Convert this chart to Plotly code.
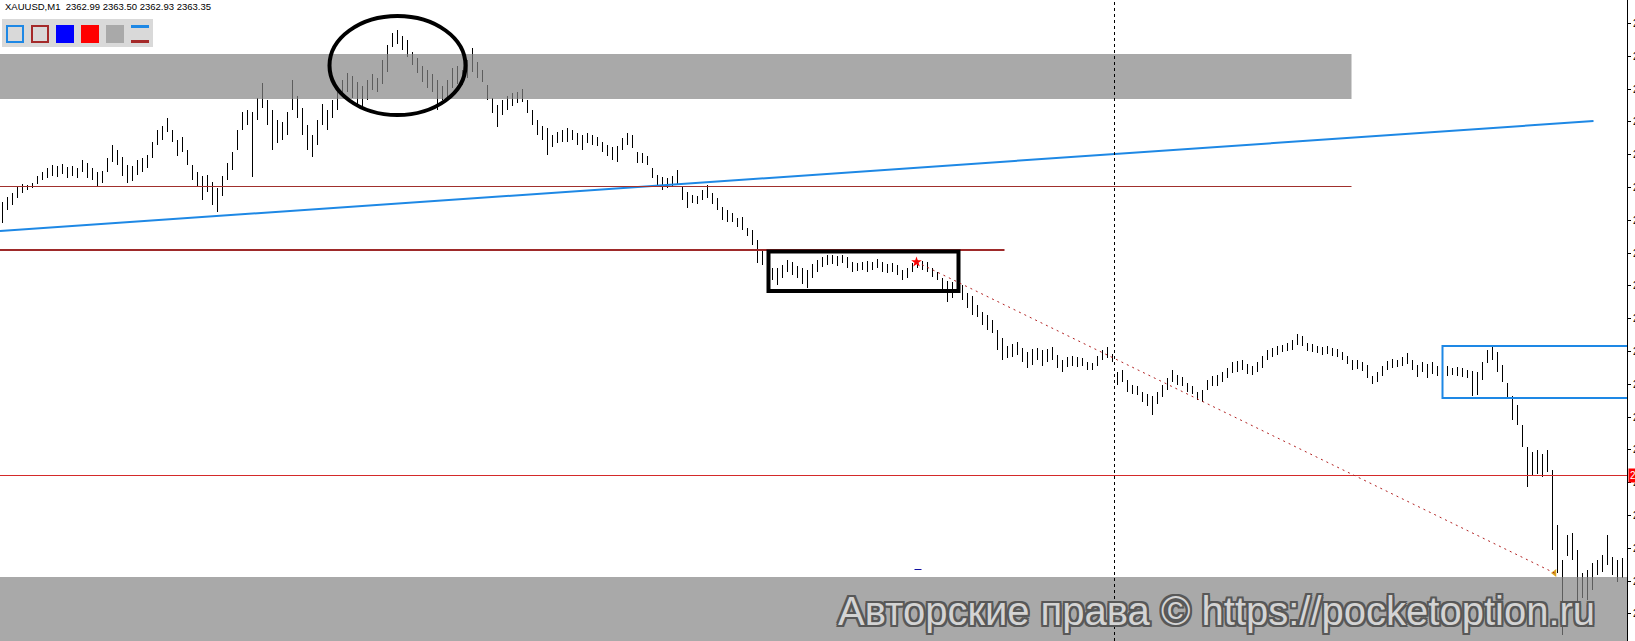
import plotly.graph_objects as go

# ---------------- data (XAUUSD M1 bars: high / low) ----------------
HIGH = [
    2365.98, 2366.03, 2366.07, 2366.13, 2366.16, 2366.15, 2366.17, 2366.24, 2366.28, 2366.32,
    2366.35, 2366.34, 2366.36, 2366.33, 2366.34, 2366.32, 2366.40, 2366.37, 2366.32, 2366.28,
    2366.29, 2366.42, 2366.55, 2366.50, 2366.43, 2366.35, 2366.34, 2366.40, 2366.42, 2366.45,
    2366.58, 2366.70, 2366.74, 2366.82, 2366.70, 2366.60, 2366.63, 2366.50, 2366.35, 2366.28,
    2366.24, 2366.25, 2366.18, 2366.12, 2366.24, 2366.37, 2366.48, 2366.70, 2366.88, 2366.90,
    2366.88, 2367.02, 2367.17, 2367.00, 2366.90, 2366.80, 2366.78, 2366.88, 2367.20, 2367.04,
    2366.92, 2366.75, 2366.65, 2366.80, 2366.96, 2366.90, 2367.00, 2367.10, 2367.20, 2367.27,
    2367.24, 2367.18, 2367.14, 2367.20, 2367.26, 2367.22, 2367.40, 2367.55, 2367.67, 2367.70,
    2367.64, 2367.60, 2367.48, 2367.42, 2367.34, 2367.30, 2367.26, 2367.20, 2367.14, 2367.20,
    2367.32, 2367.34, 2367.30, 2367.40, 2367.52, 2367.38, 2367.30, 2367.15, 2367.02, 2366.95,
    2367.00, 2367.04, 2367.07, 2367.08, 2367.11, 2367.00, 2366.90, 2366.80, 2366.74, 2366.72,
    2366.65, 2366.68, 2366.70, 2366.72, 2366.70, 2366.67, 2366.65, 2366.67, 2366.65, 2366.63,
    2366.58, 2366.55, 2366.53, 2366.54, 2366.62, 2366.67, 2366.65, 2366.48, 2366.47, 2366.44,
    2366.32, 2366.25, 2366.23, 2366.22, 2366.24, 2366.30, 2366.14, 2366.08, 2366.05, 2366.04,
    2366.10, 2366.15, 2366.07, 2366.02, 2365.93, 2365.90, 2365.87, 2365.82, 2365.83, 2365.72,
    2365.70, 2365.60, 2365.50, 2365.48, 2365.32, 2365.32, 2365.35, 2365.40, 2365.38, 2365.34,
    2365.32, 2365.30, 2365.36, 2365.40, 2365.43, 2365.45, 2365.45, 2365.44, 2365.45, 2365.43,
    2365.38, 2365.37, 2365.38, 2365.39, 2365.38, 2365.41, 2365.38, 2365.36, 2365.37, 2365.35,
    2365.30, 2365.32, 2365.37, 2365.40, 2365.39, 2365.38, 2365.32, 2365.28, 2365.22, 2365.19,
    2365.18, 2365.20, 2365.15, 2365.07, 2365.04, 2364.95, 2364.88, 2364.85, 2364.80, 2364.70,
    2364.62, 2364.54, 2364.56, 2364.58, 2364.52, 2364.48, 2364.51, 2364.52, 2364.50, 2364.51,
    2364.53, 2364.45, 2364.40, 2364.43, 2364.44, 2364.43, 2364.42, 2364.38, 2364.37, 2364.44,
    2364.50, 2364.53, 2364.46, 2364.28, 2364.30, 2364.20, 2364.15, 2364.14, 2364.08, 2364.06,
    2364.04, 2364.08, 2364.15, 2364.22, 2364.30, 2364.25, 2364.23, 2364.17, 2364.14, 2364.08,
    2364.10, 2364.20, 2364.24, 2364.25, 2364.28, 2364.32, 2364.38, 2364.39, 2364.40, 2364.36,
    2364.34, 2364.38, 2364.44, 2364.50, 2364.52, 2364.54, 2364.55, 2364.57, 2364.60, 2364.66,
    2364.64, 2364.57, 2364.56, 2364.54, 2364.53, 2364.54, 2364.52, 2364.51, 2364.48, 2364.44,
    2364.40, 2364.40, 2364.38, 2364.35, 2364.24, 2364.28, 2364.34, 2364.39, 2364.41, 2364.40,
    2364.43, 2364.47, 2364.40, 2364.35, 2364.38, 2364.36, 2364.38, 2364.34, 2364.32, 2364.34,
    2364.32, 2364.33, 2364.32, 2364.30, 2364.29, 2364.28, 2364.38, 2364.50, 2364.53, 2364.48,
    2364.35, 2364.17, 2364.04, 2363.95, 2363.75, 2363.53, 2363.48, 2363.50, 2363.46, 2363.50,
    2363.30, 2362.75, 2362.40, 2362.65, 2362.67, 2362.50, 2362.27, 2362.30, 2362.37, 2362.40,
    2362.45, 2362.65, 2362.43, 2362.40, 2362.42,
]
LOW = [
    2365.77, 2365.90, 2365.95, 2366.02, 2366.07, 2366.10, 2366.12, 2366.16, 2366.20, 2366.22,
    2366.24, 2366.23, 2366.26, 2366.22, 2366.24, 2366.22, 2366.28, 2366.22, 2366.20, 2366.14,
    2366.17, 2366.28, 2366.38, 2366.35, 2366.24, 2366.17, 2366.19, 2366.25, 2366.28, 2366.32,
    2366.42, 2366.55, 2366.60, 2366.68, 2366.58, 2366.44, 2366.48, 2366.35, 2366.20, 2366.14,
    2366.00, 2366.08, 2365.95, 2365.88, 2366.04, 2366.20, 2366.30, 2366.50, 2366.70, 2366.75,
    2366.23, 2366.80, 2366.92, 2366.75, 2366.50, 2366.57, 2366.60, 2366.65, 2366.90, 2366.82,
    2366.65, 2366.50, 2366.43, 2366.55, 2366.75, 2366.70, 2366.82, 2366.90, 2367.03, 2367.08,
    2367.02, 2366.95, 2366.92, 2367.00, 2367.10, 2367.08, 2367.16, 2367.28, 2367.53, 2367.56,
    2367.50, 2367.43, 2367.35, 2367.27, 2367.18, 2367.12, 2367.08, 2366.90, 2367.00, 2367.03,
    2367.12, 2367.16, 2367.15, 2367.22, 2367.28, 2367.22, 2367.18, 2367.00, 2366.87, 2366.73,
    2366.85, 2366.90, 2366.94, 2366.97, 2366.98, 2366.87, 2366.75, 2366.65, 2366.60, 2366.45,
    2366.53, 2366.57, 2366.58, 2366.58, 2366.60, 2366.55, 2366.50, 2366.57, 2366.55, 2366.54,
    2366.48, 2366.44, 2366.40, 2366.38, 2366.50, 2366.55, 2366.52, 2366.37, 2366.37, 2366.35,
    2366.22, 2366.13, 2366.10, 2366.12, 2366.13, 2366.16, 2366.00, 2365.92, 2365.97, 2365.96,
    2366.00, 2366.02, 2365.96, 2365.90, 2365.80, 2365.78, 2365.78, 2365.73, 2365.70, 2365.64,
    2365.55, 2365.37, 2365.35, 2365.36, 2365.20, 2365.15, 2365.22, 2365.28, 2365.25, 2365.22,
    2365.16, 2365.12, 2365.22, 2365.28, 2365.33, 2365.35, 2365.36, 2365.34, 2365.37, 2365.32,
    2365.28, 2365.29, 2365.30, 2365.28, 2365.30, 2365.32, 2365.28, 2365.27, 2365.28, 2365.25,
    2365.20, 2365.22, 2365.28, 2365.32, 2365.30, 2365.28, 2365.23, 2365.20, 2365.10, 2364.98,
    2365.02, 2365.08, 2365.00, 2364.92, 2364.85, 2364.83, 2364.75, 2364.70, 2364.67, 2364.50,
    2364.40, 2364.42, 2364.43, 2364.45, 2364.38, 2364.32, 2364.35, 2364.40, 2364.34, 2364.38,
    2364.40, 2364.32, 2364.28, 2364.33, 2364.34, 2364.33, 2364.34, 2364.30, 2364.30, 2364.34,
    2364.40, 2364.42, 2364.38, 2364.15, 2364.18, 2364.08, 2364.06, 2364.05, 2363.98, 2363.94,
    2363.85, 2363.96, 2364.03, 2364.10, 2364.18, 2364.15, 2364.14, 2364.08, 2364.06, 2364.00,
    2363.98, 2364.10, 2364.14, 2364.14, 2364.18, 2364.22, 2364.27, 2364.28, 2364.30, 2364.26,
    2364.25, 2364.28, 2364.32, 2364.40, 2364.43, 2364.45, 2364.48, 2364.49, 2364.50, 2364.55,
    2364.54, 2364.49, 2364.48, 2364.47, 2364.45, 2364.46, 2364.44, 2364.43, 2364.40, 2364.36,
    2364.30, 2364.31, 2364.29, 2364.22, 2364.16, 2364.18, 2364.24, 2364.30, 2364.32, 2364.33,
    2364.34, 2364.36, 2364.30, 2364.23, 2364.28, 2364.22, 2364.26, 2364.24, 2364.18, 2364.24,
    2364.25, 2364.24, 2364.23, 2364.22, 2364.04, 2364.05, 2364.20, 2364.37, 2364.40, 2364.28,
    2364.18, 2364.02, 2363.80, 2363.75, 2363.53, 2363.13, 2363.24, 2363.26, 2363.23, 2363.28,
    2362.50, 2362.27, 2361.65, 2362.44, 2362.40, 2361.93, 2362.02, 2362.00, 2362.10, 2362.25,
    2362.28, 2362.35, 2362.25, 2362.18, 2362.22,
]
IDX = list(range(len(HIGH)))

HEADER = "XAUUSD,M1\u00a0\u00a02362.99 2363.50 2362.93 2363.35"
WATERMARK = "Авторские права © https://pocketoption.ru"
PRICE_LABEL = "2363.35"

# drawn objects (bar index / price)
RES_ZONE = (-1, 269.8, 2367.01, 2367.46)
SUP_ZONE = (-1, 330, 2361.0, 2362.23)
TREND = (-0.5, 2365.69, 318.2, 2366.79)
LEVEL_THIN = (-1, 269.8, 2366.135)
LEVEL_THICK = (-1, 200.4, 2365.50)
LEVEL_RED = (-1, 330, 2363.245)
FLAT_BOX = (153.2, 191.2, 2365.09, 2365.485)
TOP_ELLIPSE = (65.4, 92.6, 2366.85, 2367.84)
DOT_LINE = (182.8, 2365.38, 310.4, 2362.27)
V_LINE = 222.4
BLUE_BOX = (288, 330, 2364.02, 2364.54)
SMALL_DASH = (182.4, 183.8, 2362.305)

W, H = 1635, 641
ML, MR = 0, 8
PW = W - ML - MR


def X(px):
    return px / PW


def Y(py):
    return 1 - py / H


fig = go.Figure()
fig.add_trace(go.Bar(
    x=IDX, y=[h - l for h, l in zip(HIGH, LOW)], base=LOW, width=0.15,
    marker=dict(color="black", line=dict(width=0)),
    showlegend=False, hoverinfo="skip"))

# markers
fig.add_trace(go.Scatter(x=[DOT_LINE[0]], y=[DOT_LINE[1]], mode="markers",
                         marker=dict(symbol="star", size=8, color="#FF0000"),
                         showlegend=False, hoverinfo="skip"))
fig.add_trace(go.Scatter(x=[DOT_LINE[2]], y=[DOT_LINE[3]], mode="markers",
                         marker=dict(symbol="triangle-left", size=7, color="#DAA520"),
                         showlegend=False, hoverinfo="skip"))

shapes = []
GRAY = dict(fillcolor="rgb(132,132,132)", opacity=0.7, line=dict(width=0), layer="above")
for z in (RES_ZONE, SUP_ZONE):
    shapes.append(dict(type="rect", xref="x", yref="y", x0=z[0], x1=z[1], y0=z[2], y1=z[3], **GRAY))

shapes.append(dict(type="line", xref="x", yref="y", x0=TREND[0], y0=TREND[1], x1=TREND[2], y1=TREND[3],
                   line=dict(color="#1E88E5", width=2), layer="above"))
shapes.append(dict(type="line", xref="x", yref="y", x0=LEVEL_THIN[0], x1=LEVEL_THIN[1],
                   y0=LEVEL_THIN[2], y1=LEVEL_THIN[2], line=dict(color="#A0302D", width=1), layer="above"))
shapes.append(dict(type="line", xref="x", yref="y", x0=LEVEL_THICK[0], x1=LEVEL_THICK[1],
                   y0=LEVEL_THICK[2], y1=LEVEL_THICK[2], line=dict(color="#9E2A2A", width=2), layer="above"))
shapes.append(dict(type="line", xref="x", yref="y", x0=LEVEL_RED[0], x1=LEVEL_RED[1],
                   y0=LEVEL_RED[2], y1=LEVEL_RED[2], line=dict(color="#D42A2A", width=1), layer="above"))
shapes.append(dict(type="rect", xref="x", yref="y", x0=FLAT_BOX[0], x1=FLAT_BOX[1],
                   y0=FLAT_BOX[2], y1=FLAT_BOX[3], line=dict(color="black", width=4), layer="above"))
shapes.append(dict(type="circle", xref="x", yref="y", x0=TOP_ELLIPSE[0], x1=TOP_ELLIPSE[1],
                   y0=TOP_ELLIPSE[2], y1=TOP_ELLIPSE[3], line=dict(color="black", width=4), layer="above"))
shapes.append(dict(type="line", xref="x", yref="y", x0=DOT_LINE[0], y0=DOT_LINE[1], x1=DOT_LINE[2], y1=DOT_LINE[3],
                   line=dict(color="#B22222", width=1, dash="2px,4px"), layer="above"))
shapes.append(dict(type="line", xref="x", yref="paper", x0=V_LINE, x1=V_LINE, y0=0, y1=1,
                   line=dict(color="black", width=1, dash="3px,3px"), layer="above"))
shapes.append(dict(type="rect", xref="x", yref="y", x0=BLUE_BOX[0], x1=BLUE_BOX[1],
                   y0=BLUE_BOX[2], y1=BLUE_BOX[3], line=dict(color="#1E88E5", width=2), layer="above"))
shapes.append(dict(type="line", xref="x", yref="y", x0=SMALL_DASH[0], x1=SMALL_DASH[1],
                   y0=SMALL_DASH[2], y1=SMALL_DASH[2], line=dict(color="#1010A0", width=1), layer="above"))

# toolbar
shapes.append(dict(type="rect", xref="paper", yref="paper", x0=X(2), x1=X(153), y0=Y(47), y1=Y(19),
                   fillcolor="#D9D9D9", line=dict(width=0)))
shapes.append(dict(type="rect", xref="paper", yref="paper", x0=X(7), x1=X(23), y0=Y(42), y1=Y(26),
                   fillcolor="#D9D9D9", line=dict(color="#1E88E5", width=2)))
shapes.append(dict(type="rect", xref="paper", yref="paper", x0=X(32), x1=X(48), y0=Y(42), y1=Y(26),
                   fillcolor="#D9D9D9", line=dict(color="#A52A2A", width=2)))
for x0, col in ((56, "#0000FF"), (81, "#FF0000"), (106, "#A9A9A9")):
    shapes.append(dict(type="rect", xref="paper", yref="paper", x0=X(x0), x1=X(x0 + 18), y0=Y(43), y1=Y(25),
                       fillcolor=col, line=dict(width=0)))
shapes.append(dict(type="rect", xref="paper", yref="paper", x0=X(131), x1=X(149), y0=Y(28), y1=Y(25),
                   fillcolor="#1E88E5", line=dict(width=0)))
shapes.append(dict(type="rect", xref="paper", yref="paper", x0=X(131), x1=X(149), y0=Y(43), y1=Y(40),
                   fillcolor="#A52A2A", line=dict(width=0)))

annotations = [
    dict(xref="paper", yref="paper", x=X(4), y=Y(0), xanchor="left", yanchor="top",
         text=HEADER, showarrow=False, borderpad=0,
         font=dict(family="Liberation Sans", size=9.5, color="black")),
    dict(xref="paper", yref="paper", x=X(1216), y=Y(611), xanchor="center", yanchor="middle",
         text=WATERMARK, showarrow=False,
         font=dict(family="Liberation Sans", size=40, color="#D4D4D4",
                   shadow="-2px -2px 0 #585858, 2px -2px 0 #585858, -2px 2px 0 #585858, 2px 2px 0 #585858, "
                          "0 2px 0 #585858, 2px 0 0 #585858, 0 -2px 0 #585858, -2px 0 0 #585858")),
    dict(xref="paper", yref="y", x=1, y=LEVEL_RED[2], xanchor="left", yanchor="middle",
         text=PRICE_LABEL, showarrow=False, bgcolor="#FF0000", borderpad=1, xshift=1,
         font=dict(family="Liberation Sans", size=10, color="white")),
]

fig.update_layout(
    width=W, height=H,
    margin=dict(l=ML, r=MR, t=0, b=0, pad=0, autoexpand=False),
    paper_bgcolor="white", plot_bgcolor="white",
    showlegend=False,
    shapes=shapes, annotations=annotations,
    xaxis=dict(range=[-0.5, -0.5 + PW / 5], visible=False, fixedrange=True, automargin=False),
    yaxis=dict(range=[2368.0 - H / 100, 2368.0], side="right", showgrid=False, zeroline=False,
               automargin=False,
               showline=True, linecolor="black", linewidth=1, ticks="outside", ticklen=3,
               tickcolor="black", tick0=2367.766, dtick=0.328, tickformat=".2f",
               tickfont=dict(family="Liberation Sans", size=10, color="black"), fixedrange=True),
)

fig.write_html("out.html", config={"displayModeBar": False},
               post_script="document.body.style.margin='0';document.body.style.overflow='hidden';")
